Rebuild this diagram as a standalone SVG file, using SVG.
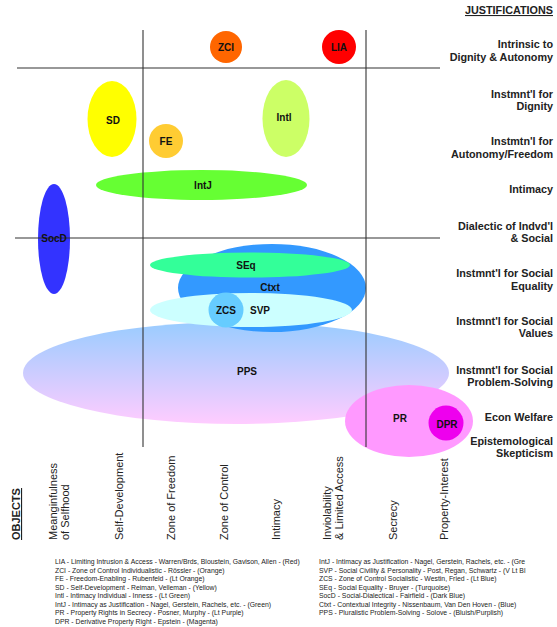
<svg xmlns="http://www.w3.org/2000/svg" width="557" height="627" viewBox="0 0 557 627">
<style>
.lbl{font-family:"Liberation Sans",Arial,sans-serif;font-weight:bold;font-size:10px;fill:#111;text-anchor:middle}
.just{font-family:"Liberation Sans",Arial,sans-serif;font-weight:bold;font-size:10.8px;fill:#222;text-anchor:end}
.obj{font-family:"Liberation Sans",Arial,sans-serif;font-size:11px;fill:#222}
.leg{font-family:"Liberation Sans",Arial,sans-serif;font-size:6.85px;fill:#222}
.grid line{stroke:#333;stroke-width:1.1}
</style>
<defs>
<linearGradient id="ppsGrad" x1="0" y1="0" x2="0" y2="1">
<stop offset="0" stop-color="#99ccff"/>
<stop offset="1" stop-color="#ffccff"/>
</linearGradient>
</defs>
<rect width="557" height="627" fill="#fff"/>

<text class="just" x="553" y="14" font-size="11.5px" text-decoration="underline">JUSTIFICATIONS</text>

<g id="PPS"><ellipse cx="236" cy="373" rx="213" ry="51" fill="url(#ppsGrad)"/></g>
<g id="Ctxt"><ellipse cx="272" cy="288" rx="94" ry="44" fill="#3399ff"/></g>
<g id="SEq"><ellipse cx="250" cy="265" rx="100" ry="12.5" fill="#33ff99"/></g>
<g id="SVP"><ellipse cx="251" cy="310" rx="101" ry="17" fill="#ccffff"/></g>
<g id="ZCS"><circle cx="226" cy="310" r="17.5" fill="#66ccff"/></g>
<g id="PR"><ellipse cx="409" cy="421" rx="64" ry="36" fill="#ff99ff"/></g>
<g id="DPR"><circle cx="446" cy="423" r="17.5" fill="#ee00ee"/></g>
<g id="ZCI"><circle cx="226" cy="47" r="16" fill="#ff6600"/></g>
<g id="LIA"><circle cx="339" cy="47" r="17" fill="#ff0000"/></g>
<g id="SD"><ellipse cx="112" cy="119" rx="24.5" ry="38" fill="#ffff00"/></g>
<g id="Intl"><ellipse cx="286" cy="118.5" rx="23.5" ry="38.5" fill="#ccff66"/></g>
<g id="FE"><circle cx="166" cy="141" r="17" fill="#ffcc33"/></g>
<g id="IntJ"><ellipse cx="201.5" cy="185" rx="105.5" ry="15" fill="#66ff33"/></g>
<g id="SocD"><ellipse cx="54" cy="239" rx="16" ry="55" fill="#3333ff"/></g>

<g id="connectors" class="grid">
<line x1="143" y1="30" x2="143" y2="447"/>
<line x1="366" y1="30" x2="366" y2="447"/>
<line x1="17" y1="68" x2="440" y2="68"/>
<line x1="15" y1="238" x2="440" y2="238"/>
</g>

<g id="labels">
<text class="lbl" x="226" y="51">ZCI</text>
<text class="lbl" x="339" y="51">LIA</text>
<text class="lbl" x="113" y="124">SD</text>
<text class="lbl" x="284" y="121">Intl</text>
<text class="lbl" x="166" y="145">FE</text>
<text class="lbl" x="203" y="189">IntJ</text>
<text class="lbl" x="54" y="242">SocD</text>
<text class="lbl" x="246" y="269">SEq</text>
<text class="lbl" x="270" y="291">Ctxt</text>
<text class="lbl" x="226" y="314">ZCS</text>
<text class="lbl" x="260" y="314">SVP</text>
<text class="lbl" x="247" y="375">PPS</text>
<text class="lbl" x="400" y="422">PR</text>
<text class="lbl" x="447" y="428">DPR</text>
</g>

<g id="justifications">
<text class="just" x="553" y="48">Intrinsic to</text>
<text class="just" x="553" y="61">Dignity &amp; Autonomy</text>
<text class="just" x="553" y="98">Instmnt'l for</text>
<text class="just" x="553" y="110">Dignity</text>
<text class="just" x="553" y="145">Instmtn'l for</text>
<text class="just" x="553" y="158">Autonomy/Freedom</text>
<text class="just" x="553" y="193">Intimacy</text>
<text class="just" x="553" y="230">Dialectic of Indvd'l</text>
<text class="just" x="553" y="242">&amp; Social</text>
<text class="just" x="553" y="277">Instmnt'l for Social</text>
<text class="just" x="553" y="290">Equality</text>
<text class="just" x="553" y="325">Instmnt'l for Social</text>
<text class="just" x="553" y="337">Values</text>
<text class="just" x="553" y="374">Instmnt'l for Social</text>
<text class="just" x="553" y="386">Problem-Solving</text>
<text class="just" x="553" y="421">Econ Welfare</text>
<text class="just" x="553" y="445">Epistemological</text>
<text class="just" x="553" y="457">Skepticism</text>
</g>

<g id="objects">
<text class="obj" transform="translate(20,540) rotate(-90)" font-weight="bold" text-decoration="underline">OBJECTS</text>
<text class="obj" transform="translate(57,540) rotate(-90)">Meanginfulness</text>
<text class="obj" transform="translate(69,540) rotate(-90)">of Selfhood</text>
<text class="obj" transform="translate(123,540) rotate(-90)">Self-Development</text>
<text class="obj" transform="translate(175,540) rotate(-90)">Zone of Freedom</text>
<text class="obj" transform="translate(228,540) rotate(-90)">Zone of Control</text>
<text class="obj" transform="translate(280,540) rotate(-90)">Intimacy</text>
<text class="obj" transform="translate(331,540) rotate(-90)">Inviolability</text>
<text class="obj" transform="translate(343,540) rotate(-90)">&amp; Limited Access</text>
<text class="obj" transform="translate(397,540) rotate(-90)">Secrecy</text>
<text class="obj" transform="translate(448,540) rotate(-90)">Property-Interest</text>
</g>

<g id="legend">
<text class="leg" x="55" y="564">LIA - Limiting Intrusion &amp; Access - Warren/Brds, Bloustein, Gavison, Allen - (Red)</text>
<text class="leg" x="55" y="572.5">ZCI - Zone of Control Individualistic - Rössler - (Orange)</text>
<text class="leg" x="55" y="581">FE - Freedom-Enabling - Rubenfeld - (Lt Orange)</text>
<text class="leg" x="55" y="589.5">SD - Self-Development - Reiman, Velleman - (Yellow)</text>
<text class="leg" x="55" y="598">Intl - Intimacy Individual - Inness - (Lt Green)</text>
<text class="leg" x="55" y="606.5">IntJ - Intimacy as Justification - Nagel, Gerstein, Rachels, etc. - (Green)</text>
<text class="leg" x="55" y="615">PR - Property Rights in Secrecy - Posner, Murphy - (Lt Purple)</text>
<text class="leg" x="55" y="623.5">DPR - Derivative Property Right - Epstein - (Magenta)</text>
<text class="leg" x="319" y="564">IntJ - Intimacy as Justification - Nagel, Gerstein, Rachels, etc. - (Gre</text>
<text class="leg" x="319" y="572.5">SVP - Social Civility &amp; Personality - Post, Regan, Schwartz - (V Lt Bl</text>
<text class="leg" x="319" y="581">ZCS - Zone of Control Socialistic - Westin, Fried - (Lt Blue)</text>
<text class="leg" x="319" y="589.5">SEq - Social Equality - Bruyer - (Turquoise)</text>
<text class="leg" x="319" y="598">SocD - Social-Dialectical - Fairfield - (Dark Blue)</text>
<text class="leg" x="319" y="606.5">Ctxt - Contextual Integrity - Nissenbaum, Van Den Hoven - (Blue)</text>
<text class="leg" x="319" y="615">PPS - Pluralistic Problem-Solving - Solove - (Bluish/Purplish)</text>
</g>
</svg>
